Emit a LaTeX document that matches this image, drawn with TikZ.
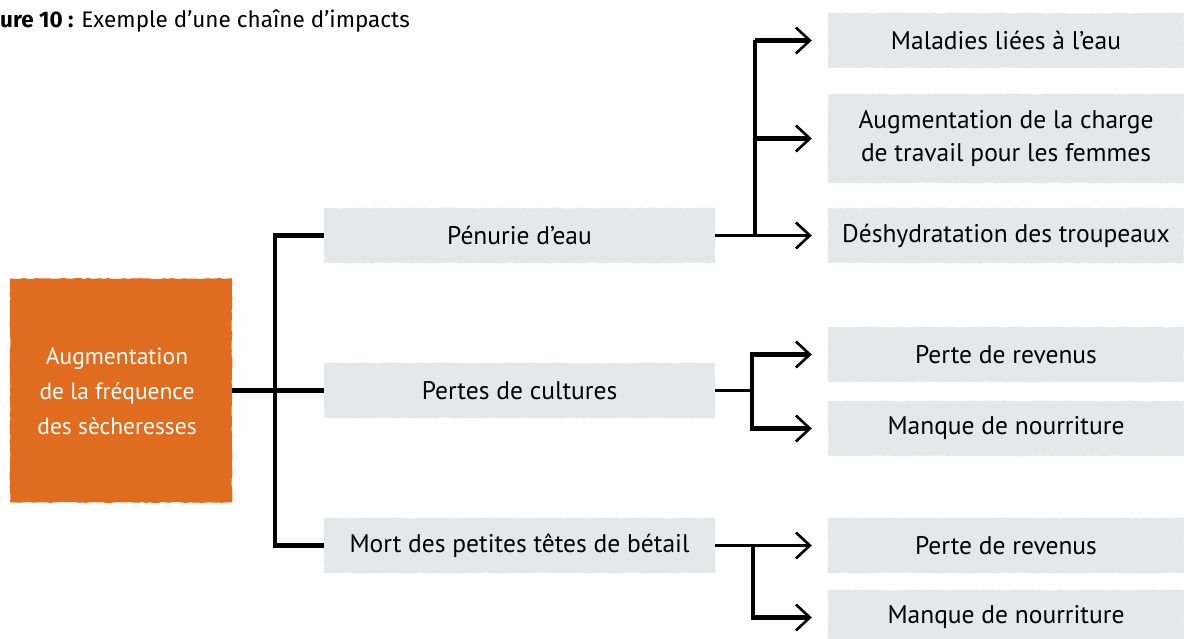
\documentclass[tikz,border=0pt]{standalone}
\usepackage{fontspec}
\usetikzlibrary{arrows.meta,calc,decorations.pathmorphing}
\newfontfamily\titlefont{Fira Sans}
\newfontfamily\handfont{PT Sans}
\definecolor{droughtorange}{HTML}{E06D1F}
\definecolor{boxgrey}{HTML}{E6E7E8}
\tikzset{
  rough/.style={decorate,decoration={random steps,segment length=4pt,amplitude=0.5pt}},
  greybox/.style={rough,fill=boxgrey,inner sep=0pt,align=center,
    font=\handfont\fontsize{25.5}{33}\selectfont,text=black},
  midbox/.style={greybox,minimum width=391pt,minimum height=55pt},
  rightbox/.style={greybox,minimum width=356pt,minimum height=55pt},
  bracket/.style={line width=4.5pt,line join=miter,black},
  link/.style={line width=2.6pt,black},
  chev/.style={-{Straight Barb[length=14pt,width=26pt,line width=2.6pt]}},
}
\begin{document}
\begin{tikzpicture}[x=1pt,y=-1pt]
\pgfmathsetseed{7}
\useasboundingbox (0,0) rectangle (1184,639);
\clip (0,0) rectangle (1184,639);

% caption line
\node[anchor=base west,inner sep=0pt,font=\titlefont\fontsize{22.5}{24}\selectfont] (cap) at (0,28)
  {\textbf{ure 10 :} Exemple d’une chaîne d’impacts};

% source of the chain
\node[rough,fill=droughtorange,minimum width=222pt,minimum height=224pt,inner sep=0pt] (src) at (121,390.5) {};
\node[text=white,align=center,font=\handfont\fontsize{23.5}{35}\selectfont] (srctxt) at (117,391)
  {Augmentation\\de la fréquence\\des sècheresses};

% first-level impacts
\node[midbox] (pen) at (519.5,235.5) {Pénurie d’eau};
\node[midbox] (cult) at (519.5,390.5) {Pertes de cultures};
\node[midbox] (mort) at (519.5,545.5) {Mort des petites têtes de bétail};

% second-level impacts
\node[rightbox] (mal) at (1006,40.5) {Maladies liées à l’eau};
\node[rightbox,minimum height=89pt] (aug) at (1006,138.5) {Augmentation de la charge\\de travail pour les femmes};
\node[rightbox] (desh) at (1006,235.5) {Déshydratation des troupeaux};
\node[rightbox] (rev1) at (1006,354.5) {Perte de revenus};
\node[rightbox] (nour1) at (1006,428.5) {Manque de nourriture};
\node[rightbox] (rev2) at (1006,545.5) {Perte de revenus};
\node[rightbox] (nour2) at (1006,617.5) {Manque de nourriture};

% junction columns
\coordinate (lx) at (275,0);
\coordinate (ra) at (755,0);
\coordinate (rb) at (752,0);
\coordinate (rc) at (753,0);

% source to first level
\draw[bracket] (pen.west) -- (pen.west -| lx) -- (mort.west -| lx) -- (mort.west);
\draw[bracket] (src.east) -- (cult.west);

% Pénurie d'eau
\draw[link,chev] (pen.east) -- ($(desh.west)+(-16,0)$);
\draw[bracket] (mal.west -| ra) -- (desh.west -| ra);
\draw[bracket,chev] (mal.west -| ra) -- ($(mal.west)+(-16,0)$);
\draw[bracket,chev] (aug.west -| ra) -- ($(aug.west)+(-16,0)$);

% Pertes de cultures
\draw[link] (cult.east) -- (cult.east -| rb);
\draw[bracket,{Straight Barb[length=14pt,width=26pt,line width=2.6pt]}-{Straight Barb[length=14pt,width=26pt,line width=2.6pt]}]
  ($(rev1.west)+(-16,0)$) -- (rev1.west -| rb) -- (nour1.west -| rb) -- ($(nour1.west)+(-16,0)$);

% Mort des petites têtes de bétail
\draw[link,chev] (mort.east) -- ($(rev2.west)+(-16,0)$);
\draw[bracket,chev] (mort.east -| rc) -- (nour2.west -| rc) -- ($(nour2.west)+(-16,0)$);
\end{tikzpicture}
\end{document}
